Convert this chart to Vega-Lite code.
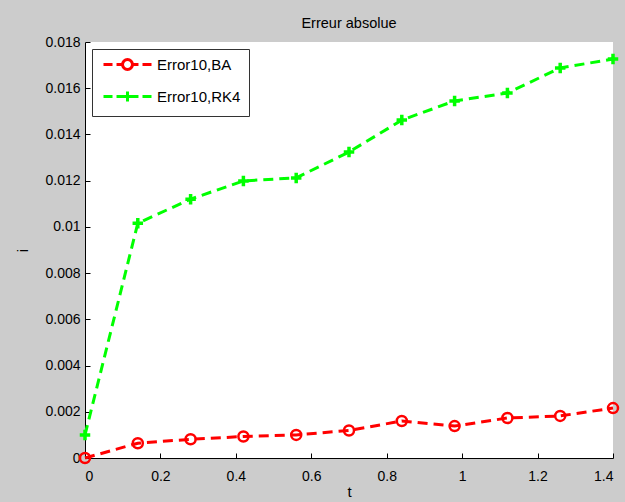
{
  "$schema": "https://vega.github.io/schema/vega-lite/v6.json",
  "autosize": {"type": "none"},
  "width": 528,
  "height": 416,
  "padding": {"left": 85, "top": 42, "right": 12, "bottom": 44},
  "background": "#cccccc",
  "view": {"fill": "white", "stroke": null},
  "config": {
    "font": "Liberation Sans",
    "axis": {
      "grid": false,
      "domainColor": "#000000",
      "tickColor": "#000000",
      "labelColor": "#000000",
      "titleColor": "#000000",
      "labelFont": "Liberation Sans",
      "titleFont": "Liberation Sans",
      "labelFontSize": 14,
      "titleFontSize": 15,
      "titleFontWeight": "normal",
      "tickSize": -5,
      "labelExpr": "format(datum.value, '~g')"
    }
  },
  "title": {
    "text": "Erreur absolue",
    "anchor": "middle",
    "fontSize": 14.5,
    "fontWeight": "normal",
    "font": "Liberation Sans",
    "color": "#000000",
    "offset": 4
  },
  "data": {
    "values": [
      {"t": 0.00, "series": "BA", "err": 0.0},
      {"t": 0.14, "series": "BA", "err": 0.00064},
      {"t": 0.28, "series": "BA", "err": 0.00081},
      {"t": 0.42, "series": "BA", "err": 0.00093},
      {"t": 0.56, "series": "BA", "err": 0.00100},
      {"t": 0.70, "series": "BA", "err": 0.00119},
      {"t": 0.84, "series": "BA", "err": 0.00160},
      {"t": 0.98, "series": "BA", "err": 0.00138},
      {"t": 1.12, "series": "BA", "err": 0.00173},
      {"t": 1.26, "series": "BA", "err": 0.00182},
      {"t": 1.40, "series": "BA", "err": 0.00216},
      {"t": 0.00, "series": "RK4", "err": 0.00100},
      {"t": 0.14, "series": "RK4", "err": 0.01016},
      {"t": 0.28, "series": "RK4", "err": 0.01120},
      {"t": 0.42, "series": "RK4", "err": 0.01199},
      {"t": 0.56, "series": "RK4", "err": 0.01212},
      {"t": 0.70, "series": "RK4", "err": 0.01324},
      {"t": 0.84, "series": "RK4", "err": 0.01462},
      {"t": 0.98, "series": "RK4", "err": 0.01545},
      {"t": 1.12, "series": "RK4", "err": 0.01579},
      {"t": 1.26, "series": "RK4", "err": 0.01688},
      {"t": 1.40, "series": "RK4", "err": 0.01726}
    ]
  },
  "encoding": {
    "x": {
      "field": "t", "type": "quantitative",
      "scale": {"domain": [0, 1.4], "nice": false, "zero": false},
      "axis": {"title": "t", "values": [0, 0.2, 0.4, 0.6, 0.8, 1, 1.2, 1.4], "labelPadding": 16, "titlePadding": 1}
    },
    "y": {
      "field": "err", "type": "quantitative",
      "scale": {"domain": [0, 0.018], "nice": false},
      "axis": {"title": "i", "values": [0, 0.002, 0.004, 0.006, 0.008, 0.01, 0.012, 0.014, 0.016, 0.018], "labelPadding": 10, "titlePadding": 14}
    },
    "color": {
      "field": "series", "type": "nominal",
      "scale": {"domain": ["BA", "RK4"], "range": ["#ff0000", "#00ff00"]},
      "legend": {
        "title": null,
        "orient": "top-left",
        "offset": 7,
        "padding": 8,
        "fillColor": "white",
        "strokeColor": "#333333",
        "labelFont": "Liberation Sans",
        "labelFontSize": 15,
        "labelColor": "#000000",
        "symbolOffset": 20,
        "labelOffset": 22,
        "rowPadding": 9,
        "symbolSize": 144,
        "symbolStrokeWidth": 3,
        "labelExpr": "datum.value === 'BA' ? 'Error10,BA' : 'Error10,RK4'",
        "encode": {
          "symbols": {
            "update": {
              "shape": {"signal": "datum.value === 'BA' ? 'M-4,0H-2.5M-1.83,0H-0.83M0.83,0A0.83,0.83,0,1,1,-0.83,0A0.83,0.83,0,1,1,0.83,0M0.83,0H1.83M2.5,0H4' : 'M-4,0H-2.5M-1.83,0H1.83M2.5,0H4M0,-0.83V0.83'"},
              "fill": {"value": "transparent"},
              "strokeWidth": {"value": 3},
              "strokeDash": {"value": []}
            }
          }
        }
      }
    }
  },
  "layer": [
    {
      "mark": {"type": "line", "strokeWidth": 3, "strokeDash": [10, 6]},
      "encoding": {"detail": {"field": "series"}}
    },
    {
      "transform": [{"filter": "datum.series === 'BA'"}],
      "mark": {"type": "point", "shape": "circle", "filled": false, "strokeWidth": 2.5, "size": 100, "opacity": 1}
    },
    {
      "transform": [{"filter": "datum.series === 'RK4'"}],
      "mark": {"type": "point", "shape": "M-1,0H1M0,-1V1", "filled": false, "strokeWidth": 3.5, "size": 110, "opacity": 1}
    }
  ]
}
